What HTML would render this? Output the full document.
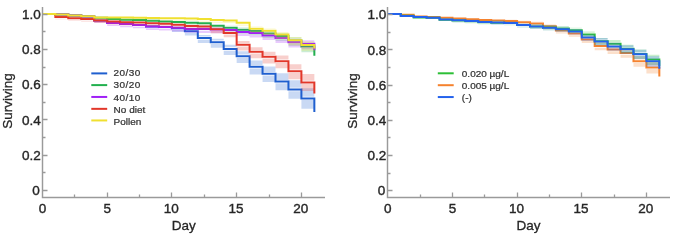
<!DOCTYPE html>
<html><head><meta charset="utf-8"><style>
html,body{margin:0;padding:0;background:#fff;}
body{width:685px;height:245px;overflow:hidden;}
svg{display:block;will-change:transform;}
text{font-family:"Liberation Sans",sans-serif;fill:#262626;}
.tk{font-size:13.5px;stroke:#262626;stroke-width:0.38px;}
.lab{font-size:13.5px;stroke:#262626;stroke-width:0.3px;}
.lg{font-size:10px;fill:#333;stroke:#333;stroke-width:0.25px;}
</style></head><body>
<svg width="685" height="245" viewBox="0 0 685 245">
<path d="M171.90,26.20H184.85V26.60H171.90ZM171.90,30.00H184.85V32.04H171.90ZM184.85,28.92H197.80V29.60H184.85ZM184.85,33.00H197.80V35.41H184.85ZM197.80,35.05H210.75V36.40H197.80ZM197.80,39.80H210.75V43.00H197.80ZM210.75,38.82H223.70V40.60H210.75ZM210.75,44.00H223.70V47.66H210.75ZM223.70,44.79H236.65V47.30H223.70ZM223.70,50.70H236.65V55.06H223.70ZM236.65,51.16H249.60V54.50H236.65ZM236.65,57.90H249.60V62.94H236.65ZM249.60,60.45H262.55V65.10H249.60ZM249.60,68.50H262.55V74.42H249.60ZM262.55,66.52H275.50V72.10H262.55ZM262.55,75.50H275.50V81.93H262.55ZM275.50,73.23H288.45V79.90H275.50ZM275.50,83.30H288.45V90.23H275.50ZM288.45,80.18H301.40V87.80H288.45ZM288.45,91.20H301.40V98.82H288.45ZM301.40,88.13H314.35V96.70H301.40ZM301.40,100.10H314.35V108.67H301.40Z" fill="rgb(31,95,207)" fill-opacity="0.24"/>
<path d="M42.40,14.00H55.35V14.60H68.30V15.60H81.25V16.50H94.20V20.40H107.15V23.00H120.10V24.00H133.05V25.00H146.00V26.50H158.95V27.00H171.90V28.30H184.85V31.30H197.80V38.10H210.75V42.30H223.70V49.00H236.65V56.20H249.60V66.80H262.55V73.80H275.50V81.60H288.45V89.50H301.40V98.40H314.35V112.00" fill="none" stroke="#1f5fcf" stroke-width="2" stroke-linejoin="miter"/>
<path d="M42.40,15.70H55.35V15.83H42.40ZM55.35,16.30H68.30V16.52H55.35ZM68.30,17.30H81.25V17.66H68.30ZM81.25,18.00H94.20V18.46H81.25ZM94.20,19.50H107.15V20.16H94.20ZM107.15,20.70H120.10V21.53H107.15ZM120.10,21.40H133.05V22.32H120.10ZM133.05,21.70H146.00V22.66H133.05ZM146.00,22.40H158.95V23.46H146.00ZM158.95,23.20H171.90V24.36H158.95ZM171.90,23.80H184.85V25.04H171.90ZM184.85,24.40H197.80V25.72H184.85ZM197.80,24.90H210.75V26.29H197.80ZM210.75,23.93H223.70V24.10H210.75ZM210.75,27.50H223.70V29.22H210.75ZM223.70,25.74H236.65V26.10H223.70ZM223.70,29.50H236.65V31.48H223.70ZM236.65,27.56H249.60V28.10H236.65ZM236.65,31.50H249.60V33.73H236.65ZM249.60,28.65H262.55V29.30H249.60ZM249.60,32.70H262.55V35.07H249.60ZM262.55,31.00H275.50V31.90H262.55ZM262.55,35.30H275.50V37.98H262.55ZM275.50,33.16H288.45V34.30H275.50ZM275.50,37.70H288.45V40.66H275.50ZM288.45,37.21H301.40V38.80H288.45ZM288.45,42.20H301.40V45.67H288.45ZM301.40,42.48H314.35V44.70H301.40ZM301.40,48.10H314.35V52.19H301.40Z" fill="rgb(34,176,78)" fill-opacity="0.24"/>
<path d="M42.40,14.00H55.35V14.60H68.30V15.60H81.25V16.30H94.20V17.80H107.15V19.00H120.10V19.70H133.05V20.00H146.00V20.70H158.95V21.50H171.90V22.10H184.85V22.70H197.80V23.20H210.75V25.80H223.70V27.80H236.65V29.80H249.60V31.00H262.55V33.60H275.50V36.00H288.45V40.50H301.40V46.40H314.35V55.70" fill="none" stroke="#22b04e" stroke-width="2" stroke-linejoin="miter"/>
<path d="M42.40,15.70H55.35V15.83H42.40ZM55.35,16.30H68.30V16.52H55.35ZM68.30,17.30H81.25V17.66H68.30ZM81.25,18.20H94.20V18.68H81.25ZM94.20,22.10H107.15V23.12H94.20ZM107.15,24.70H120.10V26.06H107.15ZM120.10,22.29H133.05V22.30H120.10ZM120.10,25.70H133.05V27.19H120.10ZM133.05,23.20H146.00V23.30H133.05ZM133.05,26.70H146.00V28.32H133.05ZM146.00,24.56H158.95V24.80H146.00ZM146.00,28.20H158.95V30.01H146.00ZM158.95,25.02H171.90V25.30H158.95ZM158.95,28.70H171.90V30.58H158.95ZM171.90,25.74H184.85V26.10H171.90ZM171.90,29.50H184.85V31.48H171.90ZM184.85,26.74H197.80V27.20H184.85ZM184.85,30.60H197.80V32.71H184.85ZM197.80,26.93H210.75V27.40H197.80ZM197.80,30.80H210.75V32.94H197.80ZM210.75,27.20H223.70V27.70H210.75ZM210.75,31.10H223.70V33.28H210.75ZM223.70,27.74H236.65V28.30H223.70ZM223.70,31.70H236.65V33.95H223.70ZM236.65,29.46H249.60V30.20H236.65ZM236.65,33.60H249.60V36.08H236.65ZM249.60,30.55H262.55V31.40H249.60ZM249.60,34.80H262.55V37.42H249.60ZM262.55,32.71H275.50V33.80H262.55ZM262.55,37.20H275.50V40.11H262.55ZM275.50,35.05H288.45V36.40H275.50ZM275.50,39.80H288.45V43.00H275.50ZM288.45,38.73H301.40V40.50H288.45ZM288.45,43.90H301.40V47.55H288.45ZM301.40,40.16H314.35V42.10H301.40ZM301.40,45.50H314.35V49.32H301.40Z" fill="rgb(160,32,246)" fill-opacity="0.24"/>
<path d="M42.40,14.00H55.35V14.60H68.30V15.60H81.25V16.50H94.20V20.40H107.15V23.00H120.10V24.00H133.05V25.00H146.00V26.50H158.95V27.00H171.90V27.80H184.85V28.90H197.80V29.10H210.75V29.40H223.70V30.00H236.65V31.90H249.60V33.10H262.55V35.50H275.50V38.10H288.45V42.20H301.40V43.80H314.35V50.30" fill="none" stroke="#a020f6" stroke-width="2" stroke-linejoin="miter"/>
<path d="M42.40,15.70H55.35V15.83H42.40ZM55.35,18.70H68.30V19.25H55.35ZM68.30,19.90H81.25V20.62H68.30ZM81.25,20.70H94.20V21.53H81.25ZM94.20,22.10H107.15V23.12H94.20ZM107.15,23.30H120.10V24.48H107.15ZM120.10,23.90H133.05V25.16H120.10ZM133.05,24.30H146.00V25.61H133.05ZM146.00,24.90H158.95V26.29H146.00ZM158.95,25.40H171.90V26.85H158.95ZM171.90,23.01H184.85V23.10H171.90ZM171.90,26.50H184.85V28.10H171.90ZM184.85,24.02H197.80V24.20H184.85ZM184.85,27.60H197.80V29.34H184.85ZM197.80,24.47H210.75V24.70H197.80ZM197.80,28.10H210.75V29.90H197.80ZM210.75,27.11H223.70V27.60H210.75ZM210.75,31.00H223.70V33.16H210.75ZM223.70,30.37H236.65V31.20H223.70ZM223.70,34.60H236.65V37.20H223.70ZM236.65,41.05H249.60V43.10H236.65ZM236.65,46.50H249.60V50.43H236.65ZM249.60,47.27H262.55V50.10H249.60ZM249.60,53.50H262.55V58.13H249.60ZM262.55,51.69H275.50V55.10H262.55ZM262.55,58.50H275.50V63.59H262.55ZM275.50,55.55H288.45V59.50H275.50ZM275.50,62.90H288.45V68.37H275.50ZM288.45,64.27H301.40V69.50H288.45ZM288.45,72.90H301.40V79.15H288.45ZM301.40,73.92H314.35V80.70H301.40ZM301.40,84.10H314.35V91.08H301.40Z" fill="rgb(226,55,42)" fill-opacity="0.24"/>
<path d="M42.40,14.00H55.35V17.00H68.30V18.20H81.25V19.00H94.20V20.40H107.15V21.60H120.10V22.20H133.05V22.60H146.00V23.20H158.95V23.70H171.90V24.80H184.85V25.90H197.80V26.40H210.75V29.30H223.70V32.90H236.65V44.80H249.60V51.80H262.55V56.80H275.50V61.20H288.45V71.20H301.40V82.40H314.35V93.50" fill="none" stroke="#e2372a" stroke-width="2" stroke-linejoin="miter"/>
<path d="M42.40,15.70H55.35V15.83H42.40ZM55.35,16.30H68.30V16.52H55.35ZM68.30,17.20H81.25V17.54H68.30ZM81.25,17.90H94.20V18.34H81.25ZM94.20,19.10H107.15V19.71H94.20ZM107.15,19.20H120.10V19.82H107.15ZM120.10,19.30H133.05V19.94H120.10ZM133.05,19.50H146.00V20.16H133.05ZM146.00,19.70H158.95V20.39H146.00ZM158.95,19.90H171.90V20.62H158.95ZM171.90,20.00H184.85V20.73H171.90ZM184.85,20.30H197.80V21.07H184.85ZM197.80,20.80H210.75V21.64H197.80ZM210.75,21.80H223.70V22.78H210.75ZM223.70,22.10H236.65V23.12H223.70ZM236.65,24.50H249.60V25.84H236.65ZM249.60,26.56H262.55V27.00H249.60ZM249.60,30.40H262.55V32.49H249.60ZM262.55,28.47H275.50V29.10H262.55ZM262.55,32.50H275.50V34.85H262.55ZM275.50,31.90H288.45V32.90H275.50ZM275.50,36.30H288.45V39.10H275.50ZM288.45,36.94H301.40V38.50H288.45ZM288.45,41.90H301.40V45.34H288.45ZM301.40,41.23H314.35V43.30H301.40ZM301.40,46.70H314.35V50.65H301.40Z" fill="rgb(240,228,48)" fill-opacity="0.24"/>
<path d="M42.40,14.00H55.35V14.60H68.30V15.50H81.25V16.20H94.20V17.40H107.15V17.50H120.10V17.60H133.05V17.80H146.00V18.00H158.95V18.20H171.90V18.30H184.85V18.60H197.80V19.10H210.75V20.10H223.70V20.40H236.65V22.80H249.60V28.70H262.55V30.80H275.50V34.60H288.45V40.20H301.40V45.00H314.35V48.40" fill="none" stroke="#f0e030" stroke-width="2" stroke-linejoin="miter"/>
<path d="M42.5,7V197.5H325" fill="none" stroke="#9a9a9a" stroke-width="1.45"/>
<path d="M42.5,190.5h5M42.5,172.5h3M42.5,155.5h5M42.5,137.5h3M42.5,119.5h5M42.5,102.5h3M42.5,84.5h5M42.5,67.5h3M42.5,49.5h5M42.5,31.5h3M42.5,14.5h5M74.5,197.5v-3M107.5,197.5v-5M139.5,197.5v-3M171.5,197.5v-5M204.5,197.5v-3M236.5,197.5v-5M269.5,197.5v-3M301.5,197.5v-5" fill="none" stroke="#9a9a9a" stroke-width="1.3"/>
<text x="40.9" y="19.0" text-anchor="end" class="tk">1.0</text>
<text x="40.9" y="54.2" text-anchor="end" class="tk">0.8</text>
<text x="40.9" y="89.4" text-anchor="end" class="tk">0.6</text>
<text x="40.9" y="124.6" text-anchor="end" class="tk">0.4</text>
<text x="40.9" y="159.8" text-anchor="end" class="tk">0.2</text>
<text x="39.8" y="195.0" text-anchor="end" class="tk">0</text>
<text x="42.4" y="212.6" text-anchor="middle" class="tk">0</text>
<text x="107.2" y="212.6" text-anchor="middle" class="tk">5</text>
<text x="171.2" y="212.6" text-anchor="middle" class="tk">10</text>
<text x="236.0" y="212.6" text-anchor="middle" class="tk">15</text>
<text x="300.7" y="212.6" text-anchor="middle" class="tk">20</text>
<text x="183.7" y="230.2" text-anchor="middle" class="lab">Day</text>
<text transform="translate(11.9,101) rotate(-90)" text-anchor="middle" class="lab">Surviving</text>
<path d="M91.3,73.4H107.2" stroke="#1f5fcf" stroke-width="2"/>
<text transform="translate(113.6,76.00) scale(1,0.97)" class="lg" letter-spacing="0.4">20/30</text>
<path d="M91.3,85.1H107.2" stroke="#22b04e" stroke-width="2"/>
<text transform="translate(113.6,88.20) scale(1,0.97)" class="lg" letter-spacing="0.4">30/20</text>
<path d="M91.3,96.95H107.2" stroke="#a020f6" stroke-width="2"/>
<text transform="translate(113.6,100.80) scale(1,0.97)" class="lg" letter-spacing="0.4">40/10</text>
<path d="M91.3,108.85H107.2" stroke="#e2372a" stroke-width="2"/>
<text transform="translate(113.6,113.30) scale(1,0.9)" class="lg">No diet</text>
<path d="M91.3,120.45H107.2" stroke="#f0e030" stroke-width="2"/>
<text transform="translate(113.6,124.90) scale(1,0.9)" class="lg">Pollen</text>
<path d="M452.45,20.30H465.38V20.32H452.45ZM465.38,21.00H478.31V21.09H465.38ZM478.31,21.60H491.24V21.74H478.31ZM491.24,18.70H504.17V18.70H491.24ZM491.24,22.10H504.17V22.28H491.24ZM504.17,19.34H517.10V19.40H504.17ZM504.17,22.80H517.10V23.05H504.17ZM517.10,20.35H530.03V20.50H517.10ZM517.10,23.90H530.03V24.25H517.10ZM530.03,21.64H542.96V21.90H530.03ZM530.03,25.30H542.96V25.77H530.03ZM542.96,24.12H555.89V24.60H542.96ZM542.96,28.00H555.89V28.71H542.96ZM555.89,28.07H568.82V28.90H555.89ZM555.89,32.30H568.82V33.40H555.89ZM568.82,30.83H581.75V31.90H568.82ZM568.82,35.30H581.75V36.67H568.82ZM581.75,36.16H594.68V37.70H581.75ZM581.75,41.10H594.68V42.98H581.75ZM594.68,42.22H607.61V44.30H594.68ZM594.68,47.70H607.61V50.17H594.68ZM607.61,45.44H620.54V47.80H607.61ZM607.61,51.20H620.54V53.99H607.61ZM620.54,48.66H633.47V51.30H620.54ZM620.54,54.70H633.47V57.80H620.54ZM633.47,56.19H646.40V59.50H633.47ZM633.47,62.90H646.40V66.74H633.47ZM646.40,61.89H659.33V65.70H646.40ZM646.40,69.10H659.33V73.49H646.40Z" fill="rgb(245,130,46)" fill-opacity="0.25"/>
<path d="M387.80,13.90H400.73V14.80H413.66V16.60H426.59V16.90H439.52V17.70H452.45V18.60H465.38V19.30H478.31V19.90H491.24V20.40H504.17V21.10H517.10V22.20H530.03V23.60H542.96V26.30H555.89V30.60H568.82V33.60H581.75V39.40H594.68V46.00H607.61V49.50H620.54V53.00H633.47V61.20H646.40V67.40H659.33V76.50" fill="none" stroke="#f5822e" stroke-width="2" stroke-linejoin="miter"/>
<path d="M439.52,21.40H452.45V21.52H439.52ZM452.45,18.79H465.38V18.80H452.45ZM452.45,22.20H465.38V22.39H452.45ZM465.38,19.52H478.31V19.60H465.38ZM465.38,23.00H478.31V23.26H465.38ZM478.31,20.35H491.24V20.50H478.31ZM478.31,23.90H491.24V24.25H478.31ZM491.24,20.81H504.17V21.00H491.24ZM491.24,24.40H504.17V24.79H491.24ZM504.17,21.18H517.10V21.40H504.17ZM504.17,24.80H517.10V25.23H504.17ZM517.10,22.92H530.03V23.30H517.10ZM517.10,26.70H530.03V27.30H517.10ZM530.03,24.39H542.96V24.90H530.03ZM530.03,28.30H542.96V29.04H530.03ZM542.96,25.31H555.89V25.90H542.96ZM542.96,29.30H555.89V30.13H542.96ZM555.89,26.23H568.82V26.90H555.89ZM555.89,30.30H568.82V31.22H555.89ZM568.82,27.70H581.75V28.50H568.82ZM568.82,31.90H581.75V32.96H568.82ZM581.75,31.56H594.68V32.70H581.75ZM581.75,36.10H594.68V37.54H581.75ZM594.68,37.90H607.61V39.60H594.68ZM594.68,43.00H607.61V45.05H594.68ZM607.61,40.11H620.54V42.00H607.61ZM607.61,45.40H620.54V47.67H607.61ZM620.54,44.80H633.47V47.10H620.54ZM620.54,50.50H633.47V53.23H620.54ZM633.47,49.57H646.40V52.30H633.47ZM633.47,55.70H646.40V58.89H633.47ZM646.40,54.63H659.33V57.80H646.40ZM646.40,61.20H659.33V64.88H646.40Z" fill="rgb(44,191,54)" fill-opacity="0.25"/>
<path d="M387.80,13.90H400.73V15.80H413.66V17.60H426.59V17.80H439.52V19.70H452.45V20.50H465.38V21.30H478.31V22.20H491.24V22.70H504.17V23.10H517.10V25.00H530.03V26.60H542.96V27.60H555.89V28.60H568.82V30.20H581.75V34.40H594.68V41.30H607.61V43.70H620.54V48.80H633.47V54.00H646.40V59.50H659.33V66.00" fill="none" stroke="#2cbf36" stroke-width="2" stroke-linejoin="miter"/>
<path d="M439.52,21.20H452.45V21.30H439.52ZM452.45,22.00H465.38V22.18H452.45ZM465.38,19.34H478.31V19.40H465.38ZM465.38,22.80H478.31V23.05H465.38ZM478.31,20.17H491.24V20.30H478.31ZM478.31,23.70H491.24V24.03H478.31ZM491.24,20.72H504.17V20.90H491.24ZM491.24,24.30H504.17V24.68H491.24ZM504.17,21.08H517.10V21.30H504.17ZM504.17,24.70H517.10V25.12H504.17ZM517.10,22.92H530.03V23.30H517.10ZM517.10,26.70H530.03V27.30H517.10ZM530.03,24.39H542.96V24.90H530.03ZM530.03,28.30H542.96V29.04H530.03ZM542.96,25.50H555.89V26.10H542.96ZM542.96,29.50H555.89V30.35H542.96ZM555.89,26.78H568.82V27.50H555.89ZM555.89,30.90H568.82V31.87H555.89ZM568.82,28.99H581.75V29.90H568.82ZM568.82,33.30H581.75V34.49H568.82ZM581.75,34.50H594.68V35.90H581.75ZM581.75,39.30H594.68V41.02H581.75ZM594.68,38.09H607.61V39.80H594.68ZM594.68,43.20H607.61V45.27H594.68ZM607.61,42.68H620.54V44.80H607.61ZM607.61,48.20H620.54V50.72H607.61ZM620.54,45.16H633.47V47.50H620.54ZM620.54,50.90H633.47V53.66H620.54ZM633.47,49.76H646.40V52.50H633.47ZM633.47,55.90H646.40V59.11H633.47ZM646.40,56.19H659.33V59.50H646.40ZM646.40,62.90H659.33V66.74H646.40Z" fill="rgb(36,98,236)" fill-opacity="0.25"/>
<path d="M387.80,13.90H400.73V16.00H413.66V16.90H426.59V17.80H439.52V19.50H452.45V20.30H465.38V21.10H478.31V22.00H491.24V22.60H504.17V23.00H517.10V25.00H530.03V26.60H542.96V27.80H555.89V29.20H568.82V31.60H581.75V37.60H594.68V41.50H607.61V46.50H620.54V49.20H633.47V54.20H646.40V61.20H659.33V68.80" fill="none" stroke="#2462ec" stroke-width="2" stroke-linejoin="miter"/>
<path d="M387.5,7V197.5H670" fill="none" stroke="#9a9a9a" stroke-width="1.45"/>
<path d="M387.5,190.5h5M387.5,173.5h3M387.5,155.5h5M387.5,137.5h3M387.5,120.5h5M387.5,102.5h3M387.5,85.5h5M387.5,67.5h3M387.5,49.5h5M387.5,32.5h3M387.5,14.5h5M420.5,197.5v-3M452.5,197.5v-5M484.5,197.5v-3M517.5,197.5v-5M549.5,197.5v-3M581.5,197.5v-5M614.5,197.5v-3M646.5,197.5v-5" fill="none" stroke="#9a9a9a" stroke-width="1.3"/>
<text x="386.3" y="19.4" text-anchor="end" class="tk">1.0</text>
<text x="386.3" y="54.6" text-anchor="end" class="tk">0.8</text>
<text x="386.3" y="89.8" text-anchor="end" class="tk">0.6</text>
<text x="386.3" y="125.0" text-anchor="end" class="tk">0.4</text>
<text x="386.3" y="160.2" text-anchor="end" class="tk">0.2</text>
<text x="385.2" y="195.4" text-anchor="end" class="tk">0</text>
<text x="387.8" y="212.6" text-anchor="middle" class="tk">0</text>
<text x="452.5" y="212.6" text-anchor="middle" class="tk">5</text>
<text x="516.4" y="212.6" text-anchor="middle" class="tk">10</text>
<text x="581.0" y="212.6" text-anchor="middle" class="tk">15</text>
<text x="645.7" y="212.6" text-anchor="middle" class="tk">20</text>
<text x="528.6" y="230.2" text-anchor="middle" class="lab">Day</text>
<text transform="translate(357.3,101) rotate(-90)" text-anchor="middle" class="lab">Surviving</text>
<path d="M437.8,73.3H453.7" stroke="#2cbf36" stroke-width="2"/>
<text transform="translate(461.8,77.10) scale(1,0.9)" class="lg">0.020 µg/L</text>
<path d="M437.8,85.2H453.7" stroke="#f5822e" stroke-width="2"/>
<text transform="translate(461.8,89.00) scale(1,0.9)" class="lg">0.005 µg/L</text>
<path d="M437.8,97.05H453.7" stroke="#2462ec" stroke-width="2"/>
<text transform="translate(461.8,100.85) scale(1,0.9)" class="lg">(-)</text>
</svg>
</body></html>
